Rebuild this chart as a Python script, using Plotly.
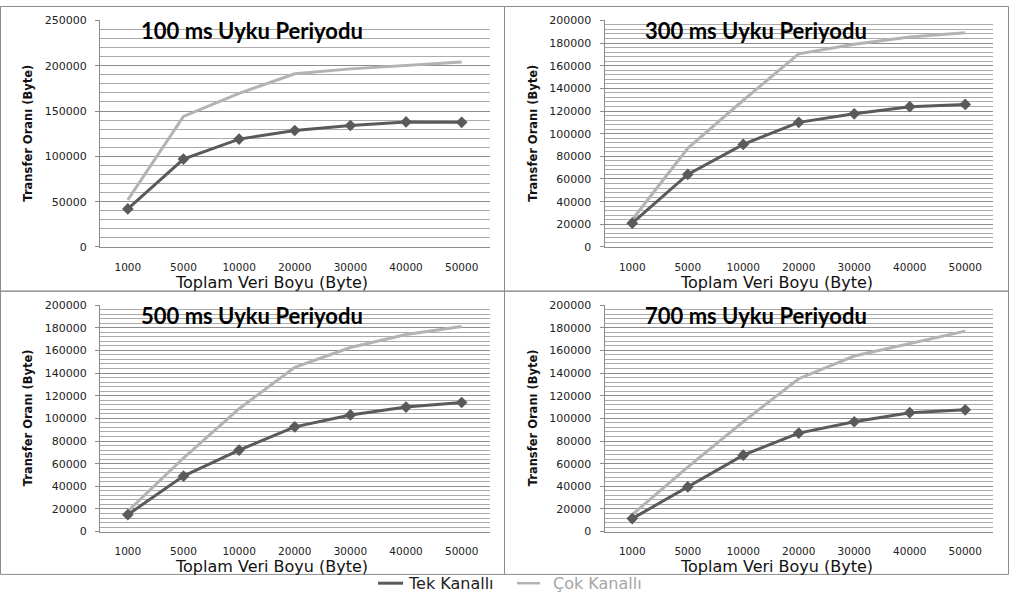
import plotly.graph_objects as go

W, H = 1012, 599

categories = ["1000", "5000", "10000", "20000", "30000", "40000", "50000"]

tek_100 = [42000, 97000, 119000, 128500, 134000, 138000, 137500]
cok_100 = [52000, 144000, 169500, 191000, 196500, 200500, 204000]
tek_300 = [21000, 64000, 90500, 110000, 117500, 123800, 125800]
cok_300 = [24000, 87000, 129500, 170500, 179000, 185300, 189000]
tek_500 = [15000, 49000, 72000, 92500, 103000, 110000, 114000]
cok_500 = [18000, 65000, 108500, 145000, 162500, 174000, 181000]
tek_700 = [11500, 39500, 67500, 87000, 97000, 105000, 107500]
cok_700 = [15000, 57000, 97000, 135000, 155000, 166000, 177000]

titles = ["100 ms Uyku Periyodu", "300 ms Uyku Periyodu",
          "500 ms Uyku Periyodu", "700 ms Uyku Periyodu"]
tek_series = [tek_100, tek_300, tek_500, tek_700]
cok_series = [cok_100, cok_300, cok_500, cok_700]
y_max = [250000, 200000, 200000, 200000]
y_major = [50000, 20000, 20000, 20000]
y_minor = [10000, 4000, 4000, 4000]

x_title = "Toplam Veri Boyu (Byte)"
y_title = "Transfer Oranı (Byte)"
legend_names = ["Tek Kanallı", "Çok Kanallı"]

DARK = "#5a5a5a"
LIGHT = "#b3b3b3"
MAJOR_GRID = "#8c8c8c"
MINOR_GRID = "#ababab"
AXIS = "#8c8c8c"


def px(x):
    return x / W


def py(y):
    return 1 - y / H


# plot areas in pixels: (left, right, top, bottom)
areas = [
    (100, 489.5, 14.7, 246.3),
    (604.5, 993, 14.7, 246.3),
    (100, 489.5, 305.7, 537.3),
    (604.5, 993, 305.7, 537.3),
]
panels = [
    (0.5, 504.5, 0.5, 291.5),
    (504.5, 1008.5, 0.5, 291.5),
    (0.5, 504.5, 291.5, 581),
    (504.5, 1008.5, 291.5, 581),
]
title_pos = [(252, 25), (755.5, 25), (252, 316), (755.5, 316)]
xtitle_pos = [(271, 283), (776, 283), (271, 573), (776, 573)]
ytitle_x = [28, 533, 28, 533]

fig = go.Figure()
annotations = []
shapes = []

for i in range(4):
    sfx = "" if i == 0 else str(i + 1)
    xa = "x" + sfx
    ya = "y" + sfx
    l, r, t, b = areas[i]
    fig.add_trace(go.Scatter(
        x=categories, y=cok_series[i], mode="lines",
        line=dict(color=LIGHT, width=3), xaxis=xa, yaxis=ya,
        name=legend_names[1], showlegend=False))
    fig.add_trace(go.Scatter(
        x=categories, y=tek_series[i], mode="lines+markers",
        line=dict(color=DARK, width=3),
        marker=dict(symbol="diamond", size=9, color=DARK),
        xaxis=xa, yaxis=ya, name=legend_names[0], showlegend=False))

    fig.layout["xaxis" + sfx] = dict(
        domain=[px(l), px(r)], anchor=ya, type="category",
        range=[-0.5, 6.5], showgrid=False, zeroline=False,
        showline=True, linecolor=AXIS, linewidth=1, ticks="",
        ticklabelstandoff=10,
        tickfont=dict(family="DejaVu Sans", size=10.5, color="#222222"))
    fig.layout["yaxis" + sfx] = dict(
        domain=[py(b), py(t)], anchor=xa, range=[0, y_max[i]],
        dtick=y_major[i], tick0=0, showgrid=True, gridcolor=MAJOR_GRID,
        gridwidth=1, zeroline=False, showline=True, linecolor=AXIS,
        linewidth=1, ticks="outside", ticklen=4, tickcolor=AXIS,
        ticklabelstandoff=6, tickformat="d",
        minor=dict(dtick=y_minor[i], tick0=0, showgrid=True,
                   gridcolor=MINOR_GRID, gridwidth=1),
        tickfont=dict(family="DejaVu Sans", size=11, color="#222222"))

    pl, pr, pt, pb = panels[i]
    shapes.append(dict(type="rect", xref="paper", yref="paper",
                       x0=px(pl), x1=px(pr), y0=py(pb), y1=py(pt),
                       line=dict(color="#8c8c8c", width=1), layer="below"))

    tx, ty = title_pos[i]
    annotations.append(dict(
        text="<b>" + titles[i] + "</b>", x=px(tx), y=py(ty),
        xref="paper", yref="paper", showarrow=False,
        xanchor="center", yanchor="middle",
        font=dict(family="Lato", size=22, color="#000000")))
    xx, xy = xtitle_pos[i]
    annotations.append(dict(
        text=x_title, x=px(xx), y=py(xy), xref="paper", yref="paper",
        showarrow=False, xanchor="center", yanchor="middle",
        font=dict(family="DejaVu Sans", size=16, color="#111111")))
    annotations.append(dict(
        text="<b>" + y_title + "</b>", x=px(ytitle_x[i]),
        y=py((t + b) / 2), xref="paper", yref="paper", showarrow=False,
        textangle=-90, xanchor="center", yanchor="middle",
        font=dict(family="DejaVu Sans", size=11.5, color="#111111")))

# legend (manual)
shapes.append(dict(type="line", xref="paper", yref="paper",
                   x0=px(378), x1=px(403), y0=py(590), y1=py(590),
                   line=dict(color=DARK, width=3)))
shapes.append(dict(type="line", xref="paper", yref="paper",
                   x0=px(517), x1=px(540), y0=py(590), y1=py(590),
                   line=dict(color=LIGHT, width=2.5)))
annotations.append(dict(
    text=legend_names[0], x=px(406), y=py(590), xref="paper", yref="paper",
    showarrow=False, xanchor="left", yanchor="middle",
    font=dict(family="DejaVu Sans", size=16, color="#222222")))
annotations.append(dict(
    text=legend_names[1], x=px(551), y=py(590), xref="paper", yref="paper",
    showarrow=False, xanchor="left", yanchor="middle",
    font=dict(family="DejaVu Sans", size=16, color="#a6a6a6")))

fig.update_layout(
    width=W, height=H, margin=dict(l=0, r=0, t=0, b=0),
    paper_bgcolor="white", plot_bgcolor="white",
    showlegend=False, annotations=annotations, shapes=shapes)

fig.write_html(
    "out.html",
    config={"displayModeBar": False},
    post_script="document.body.style.margin='0';document.body.style.overflow='hidden';")
